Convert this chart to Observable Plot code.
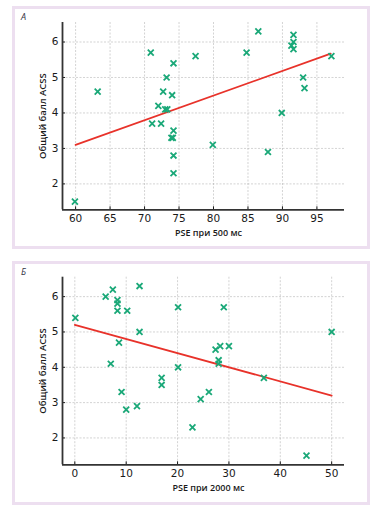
<!DOCTYPE html>
<html><head><meta charset="utf-8">
<script src="https://cdn.jsdelivr.net/npm/d3@7"></script>
<script src="https://cdn.jsdelivr.net/npm/@observablehq/plot@0.6"></script>
<style>
body{margin:0;background:#fff;}
#wrap{position:relative;width:379px;height:514px;overflow:hidden;}
.panel{position:absolute;box-sizing:border-box;border:3px solid #eddff0;background:#fff;}
.plot{position:absolute;left:0;}
</style></head><body>
<div id="wrap">
<div class="panel" style="left:12px;top:6px;width:358px;height:243px"></div>
<div class="panel" style="left:12px;top:261px;width:358px;height:244px"></div>
</div>
<script>
// Panel A data: PSE at 500 ms vs ACSS total score
const xA = [63.2,70.9,74.2,77.4,73.2,72.7,74.0,72.0,73.0,73.3,71.1,72.4,74.2,73.9,74.1,74.2,74.2,59.9,79.9,87.9,84.8,86.5,91.6,91.6,91.3,91.6,93.0,93.2,89.9,97.1];
const yA = [4.6,5.7,5.4,5.6,5.0,4.6,4.5,4.2,4.1,4.1,3.7,3.7,3.5,3.3,3.3,2.8,2.3,1.5,3.1,2.9,5.7,6.3,6.2,6.0,5.9,5.8,5.0,4.7,4.0,5.6];
const fitAx = [60, 97];
const fitAy = [3.1, 5.67];
const xTicksA = [60,65,70,75,80,85,90,95];

// Panel B data: PSE at 2000 ms vs ACSS total score
const xB = [0.1,6.0,7.4,8.3,8.3,8.3,10.2,12.6,12.6,8.6,7.0,20.1,20.1,29.0,27.4,28.3,30.0,28.0,28.0,50.0,16.9,16.9,9.1,10.0,12.1,22.9,24.5,26.1,36.8,45.1];
const yB = [5.4,6.0,6.2,5.9,5.8,5.6,5.6,6.3,5.0,4.7,4.1,5.7,4.0,5.7,4.5,4.6,4.6,4.2,4.1,5.0,3.7,3.5,3.3,2.8,2.9,2.3,3.1,3.3,3.7,1.5];
const fitBx = [0, 50];
const fitBy = [5.2, 3.2];
const xTicksB = [0,10,20,30,40,50];

const yTicks = [2,3,4,5,6];
const yLabel = "Общий балл ACSS";
const xLabelA = "PSE при 500 мс";
const xLabelB = "PSE при 2000 мс";
const letterA = "А";
const letterB = "Б";

function panel({xs, ys, fx, fy, xTicks, xDomain, yDomain, xLabel, letter, height, mTop, mBottom}) {
  const pts = xs.map((x,i)=>({x, y: ys[i]}));
  const fit = fx.map((x,i)=>({x, y: fy[i]}));
  const grid = {stroke:"#9a9a9a", strokeOpacity:0.55, strokeDasharray:"2,1.5", strokeWidth:0.8};
  return Plot.plot({
    width: 379, height,
    marginLeft: 62, marginRight: 35, marginTop: mTop, marginBottom: mBottom,
    x: {domain: xDomain}, y: {domain: yDomain},
    style: {background:"transparent", fontFamily:"DejaVu Sans, sans-serif", fontSize:"10px", color:"#1a1a1a"},
    marks: [
      Plot.gridX(xTicks, grid),
      Plot.gridY(yTicks, grid),
      Plot.axisX(xTicks, {tickSize:-3, tickPadding:8, label:null, fontSize:10.5}),
      Plot.axisY(yTicks, {tickSize:-3, tickPadding:7, label:null, fontSize:10.5}),
      Plot.ruleX([xDomain[0]], {stroke:"#333", strokeWidth:1.8}),
      Plot.ruleY([yDomain[0]], {stroke:"#333", strokeWidth:1.8}),
      Plot.line(fit, {x:"x", y:"y", stroke:"#e8322a", strokeWidth:1.8}),
      Plot.dot(pts, {x:"x", y:"y", symbol:"times", r:2.8, stroke:"#1aa878", strokeWidth:1.8}),
      Plot.text([yLabel], {frameAnchor:"left", dx:-19.5, rotate:-90, textAnchor:"middle", lineAnchor:"middle", fontSize:9.5, fontWeight:600, fill:"#1a1a1a", fontFamily:"Open Sans, sans-serif"}),
      Plot.text([xLabel], {frameAnchor:"bottom", dx:5, dy:23.5, textAnchor:"middle", lineAnchor:"middle", fontSize:9, fontWeight:600, fill:"#1a1a1a", fontFamily:"Open Sans, sans-serif"}),
      Plot.text([letter], {frameAnchor:"top-left", dx:-39, dy:-5, textAnchor:"middle", lineAnchor:"middle", fontSize:9, fontStyle:"italic", fill:"#334", fontFamily:"Open Sans, sans-serif"})
    ]
  });
}

const wrap = document.getElementById("wrap");
const pA = panel({xs:xA, ys:yA, fx:fitAx, fy:fitAy, xTicks:xTicksA, xDomain:[58.1,99], yDomain:[1.27,6.55], xLabel:xLabelA, letter:letterA, height:250, mTop:22, mBottom:40.7});
pA.classList.add("plot"); pA.style.top = "0px";
wrap.appendChild(pA);
const pB = panel({xs:xB, ys:yB, fx:fitBx, fy:fitBy, xTicks:xTicksB, xDomain:[-2.4,52.5], yDomain:[1.24,6.55], xLabel:xLabelB, letter:letterB, height:255, mTop:21.7, mBottom:45.7});
pB.classList.add("plot"); pB.style.top = "255px";
wrap.appendChild(pB);
</script>
</body></html>
